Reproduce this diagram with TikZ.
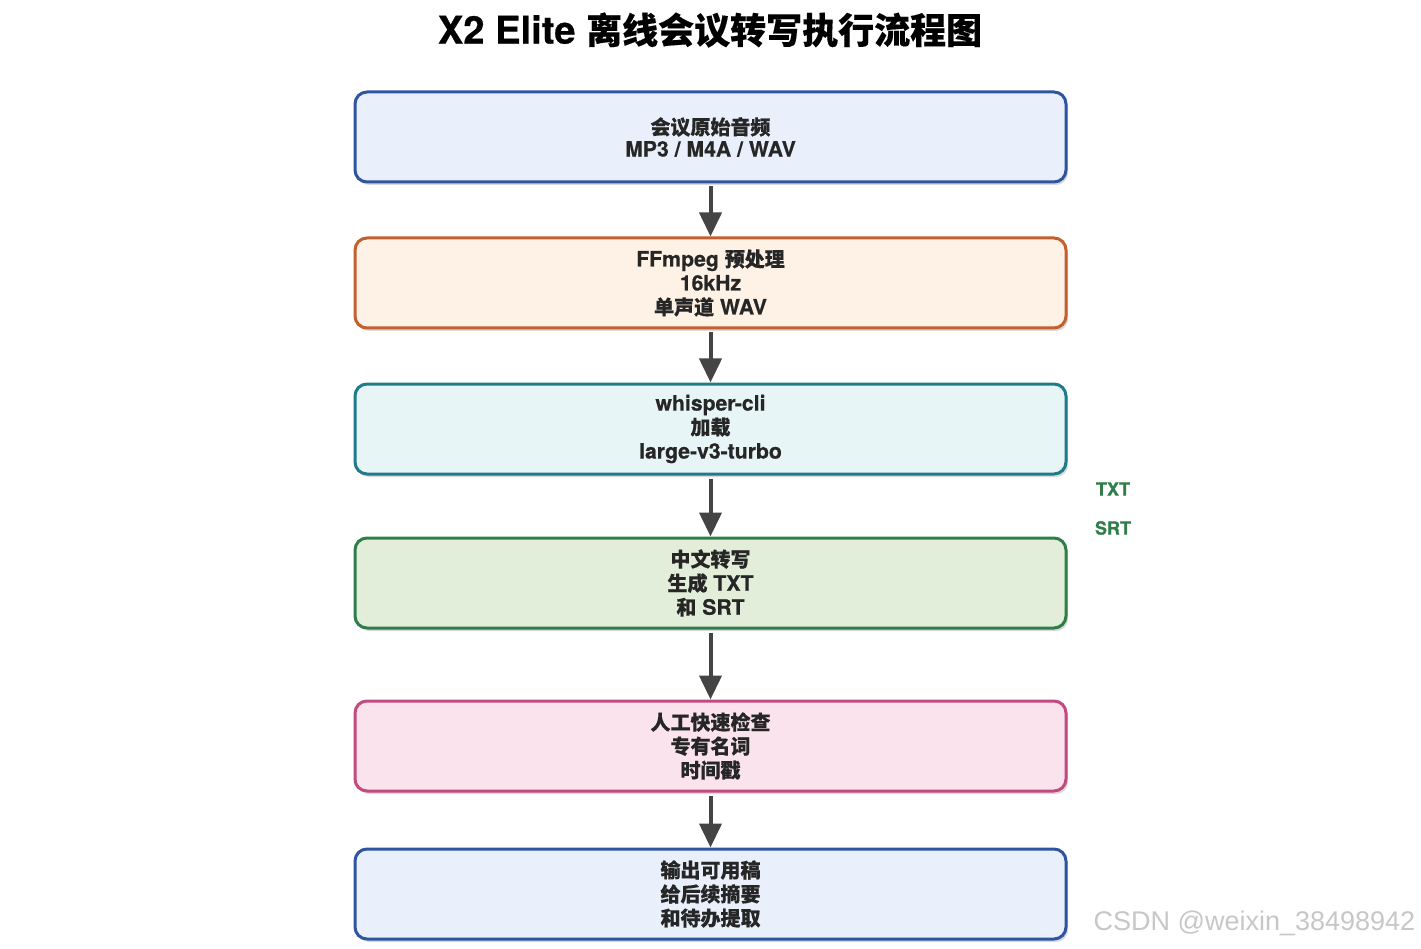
\documentclass[tikz,border=0pt]{standalone}
\usepackage{fontspec}
\setmainfont{TeX Gyre Heros}[Scale=1.06, BoldFeatures={FakeBold=0.6}]
\newfontfamily\cjk{Noto Sans CJK SC}[BoldFeatures={FakeBold=0.3}]
\newfontfamily\wmfont{Liberation Sans}
\usetikzlibrary{arrows.meta,shadows}
\newcommand\zh[1]{{\cjk #1}}
\definecolor{bBlue}{HTML}{2F55A0}\definecolor{fBlue}{HTML}{E9F0FB}
\definecolor{bOrange}{HTML}{C2602E}\definecolor{fOrange}{HTML}{FEF2E6}
\definecolor{bTeal}{HTML}{1F7A8C}\definecolor{fTeal}{HTML}{E7F5F6}
\definecolor{bGreen}{HTML}{2E7D4A}\definecolor{fGreen}{HTML}{E2EED9}
\definecolor{bPink}{HTML}{C24A7E}\definecolor{fPink}{HTML}{FAE3EC}
\definecolor{arrgray}{HTML}{444444}
\tikzset{
  stepbox/.style={rectangle, rounded corners=12pt, line width=3pt, minimum width=711pt, minimum height=90pt, inner sep=0pt, align=center, font=\bfseries\fontsize{20}{24}\selectfont, text=black!85, drop shadow={shadow xshift=2pt, shadow yshift=-3pt, opacity=0.25, fill=black!60}},
  conn/.style={draw=arrgray, line width=4pt, -{Triangle[length=24pt,width=22pt]}, shorten <=3pt},
  sidelab/.style={font=\bfseries\fontsize{17}{20}\selectfont, text=bGreen}
}
\begin{document}
\begin{tikzpicture}[x=1pt,y=-1pt]
\useasboundingbox (0,0) rectangle (1421,949);
\node (title) at (710,30) {\bfseries\fontsize{36}{42}\selectfont X2 Elite \zh{离线会议转写执行流程图}};
\node[stepbox, draw=bBlue, fill=fBlue] (n1) at (710.5,137) {\zh{会议原始音频}\\[-2pt]MP3 / M4A / WAV};
\node[stepbox, draw=bOrange, fill=fOrange] (n2) at (710.5,283) {FFmpeg \zh{预处理}\\16kHz\\\zh{单声道} WAV};
\node[stepbox, draw=bTeal, fill=fTeal] (n3) at (710.5,429) {whisper-cli\\\zh{加载}\\large-v3-turbo};
\node[stepbox, draw=bGreen, fill=fGreen] (n4) at (710.5,583) {\zh{中文转写}\\\zh{生成} TXT\\\zh{和} SRT};
\node[stepbox, draw=bPink, fill=fPink] (n5) at (710.5,746) {\zh{人工快速检查}\\\zh{专有名词}\\\zh{时间戳}};
\node[stepbox, draw=bBlue, fill=fBlue] (n6) at (710.5,894) {\zh{输出可用稿}\\\zh{给后续摘要}\\\zh{和待办提取}};
\draw[conn] (n1.south) -- (n2.north);
\draw[conn] (n2.south) -- (n3.north);
\draw[conn] (n3.south) -- (n4.north);
\draw[conn] (n4.south) -- (n5.north);
\draw[conn] (n5.south) -- (n6.north);
\node[sidelab] (txt) at (1113,489) {TXT};
\node[sidelab] (srt) at (1113,528) {SRT};
\node[anchor=east, font=\wmfont\fontsize{27}{30}\selectfont, text=black!22] (wm) at (1419,923) {CSDN @weixin\_38498942};
\end{tikzpicture}
\end{document}
